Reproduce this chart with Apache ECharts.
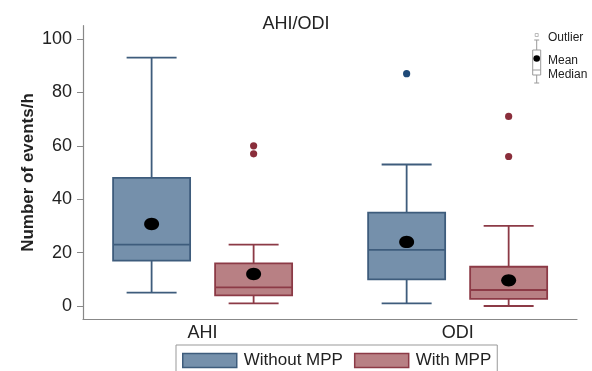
<!DOCTYPE html>
<html>
<head>
<meta charset="utf-8">
<script src="https://cdn.jsdelivr.net/npm/echarts@6/dist/echarts.min.js"></script>
<style>html,body{margin:0;padding:0;background:#fff;}#c{width:592px;height:371px;}</style>
</head>
<body>
<div id="c"></div>
<script>
// ---- data ----
const categories = ['AHI', 'ODI'];
const seriesNames = ['Without MPP', 'With MPP'];
// [min(whisker), Q1, median, Q3, max(whisker), mean]
const withoutMPP = [
  [5, 17, 23, 48, 93, 30.7],
  [1, 10, 21, 35, 53, 24]
];
const withMPP = [
  [1, 4, 7, 16, 23, 12],
  [0, 2.7, 6, 14.7, 30, 9.6]
];
const withoutOutliers = [[], [87]];
const withOutliers = [[60, 57], [71, 56]];
const yTicks = [0, 20, 40, 60, 80, 100];
const keyLabels = ['Outlier', 'Mean', 'Median'];

const styles = [
  { fill: '#7590ab', stroke: '#3e5c7c', outlier: '#1f4a78', offset: -0.2 },
  { fill: '#b88084', stroke: '#8c3a46', outlier: '#8a2e3b', offset: 0.2 }
];
const FONT = 'Liberation Sans, Arial, sans-serif';

function boxRender(si) {
  return function (params, api) {
    const cat = api.value(0);
    const bw = api.size([1, 0])[0];
    const st = styles[si];
    const cx = api.coord([cat, 0])[0] + st.offset * bw;
    const y = v => api.coord([cat, v])[1];
    const half = 0.151 * bw, cap = 0.098 * bw;
    const yMin = y(api.value(1)), yQ1 = y(api.value(2)), yMed = y(api.value(3)),
          yQ3 = y(api.value(4)), yMax = y(api.value(5)), yMean = y(api.value(6));
    const ls = { stroke: st.stroke, lineWidth: 1.8 };
    return {
      type: 'group',
      children: [
        { type: 'line', shape: { x1: cx, y1: yQ3, x2: cx, y2: yMax }, style: ls },
        { type: 'line', shape: { x1: cx, y1: yQ1, x2: cx, y2: yMin }, style: ls },
        { type: 'line', shape: { x1: cx - cap, y1: yMax, x2: cx + cap, y2: yMax }, style: ls },
        { type: 'line', shape: { x1: cx - cap, y1: yMin, x2: cx + cap, y2: yMin }, style: ls },
        { type: 'rect', shape: { x: cx - half, y: yQ3, width: 2 * half, height: yQ1 - yQ3 },
          style: { fill: st.fill, stroke: st.stroke, lineWidth: 1.8 } },
        { type: 'line', shape: { x1: cx - half, y1: yMed, x2: cx + half, y2: yMed }, style: ls },
        { type: 'ellipse', shape: { cx: cx, cy: yMean, rx: 7.5, ry: 6.2 }, style: { fill: '#000' } }
      ]
    };
  };
}

function outlierRender(si) {
  return function (params, api) {
    const cat = api.value(0);
    const bw = api.size([1, 0])[0];
    const st = styles[si];
    const p = api.coord([cat, api.value(1)]);
    return { type: 'circle', shape: { cx: p[0] + st.offset * bw, cy: p[1], r: 3.6 }, style: { fill: st.outlier } };
  };
}

const boxData = [withoutMPP, withMPP].map(arr => arr.map((d, i) => [i].concat(d)));
const outData = [withoutOutliers, withOutliers].map(arr => {
  const out = [];
  arr.forEach((vals, i) => vals.forEach(v => out.push([i, v])));
  return out;
});

// small key (legend for box elements) at top right
const kx = 536.7, kStroke = '#9a9a9a';
const keyGraphic = {
  type: 'group', silent: true,
  children: [
    { type: 'rect', shape: { x: kx - 1.5, y: 33.5, width: 3, height: 3 }, style: { fill: 'none', stroke: '#aaa', lineWidth: 0.8 } },
    { type: 'line', shape: { x1: kx - 2.5, y1: 40, x2: kx + 2.5, y2: 40 }, style: { stroke: kStroke, lineWidth: 1 } },
    { type: 'line', shape: { x1: kx, y1: 40, x2: kx, y2: 50 }, style: { stroke: kStroke, lineWidth: 1 } },
    { type: 'rect', shape: { x: kx - 4, y: 50, width: 8, height: 25 }, style: { fill: '#fff', stroke: kStroke, lineWidth: 1 } },
    { type: 'line', shape: { x1: kx - 4, y1: 70, x2: kx + 4, y2: 70 }, style: { stroke: kStroke, lineWidth: 1 } },
    { type: 'line', shape: { x1: kx, y1: 75, x2: kx, y2: 83 }, style: { stroke: kStroke, lineWidth: 1 } },
    { type: 'line', shape: { x1: kx - 2.5, y1: 83, x2: kx + 2.5, y2: 83 }, style: { stroke: kStroke, lineWidth: 1 } },
    { type: 'circle', shape: { cx: kx, cy: 58.5, r: 3.3 }, style: { fill: '#000' } },
    { type: 'text', x: 548, y: 37.5, style: { text: keyLabels[0], fontFamily: FONT, fontSize: 12, fill: '#222', verticalAlign: 'middle' } },
    { type: 'text', x: 548, y: 60.5, style: { text: keyLabels[1], fontFamily: FONT, fontSize: 12, fill: '#222', verticalAlign: 'middle' } },
    { type: 'text', x: 548, y: 75, style: { text: keyLabels[2], fontFamily: FONT, fontSize: 12, fill: '#222', verticalAlign: 'middle' } }
  ]
};

const chart = echarts.init(document.getElementById('c'), null, { renderer: 'canvas' });
chart.setOption({
  animation: false,
  backgroundColor: '#fff',
  title: {
    text: 'AHI/ODI', left: 'center', top: 10,
    textStyle: { fontFamily: FONT, fontSize: 18, fontWeight: 'normal', color: '#222' }
  },
  grid: { left: 83, right: 15, top: 25.65, bottom: 51.65 },
  xAxis: {
    type: 'value', min: -0.469, max: 1.468,
    axisLine: { show: true, onZero: false, lineStyle: { color: '#888', width: 1.2 } },
    axisTick: { show: false },
    splitLine: { show: false },
    axisLabel: {
      customValues: [0, 1],
      formatter: v => categories[Math.round(v)],
      fontFamily: FONT, fontSize: 18, color: '#222', margin: 5
    }
  },
  yAxis: {
    type: 'value', min: -5, max: 105,
    name: 'Number of events/h', nameLocation: 'middle', nameGap: 46, nameMoveOverlap: false,
    nameTextStyle: { fontFamily: FONT, fontSize: 17, fontWeight: 'bold', color: '#222' },
    axisLine: { show: true, onZero: false, lineStyle: { color: '#888', width: 1.2 } },
    axisTick: { show: true, customValues: yTicks, length: 6, lineStyle: { color: '#888' } },
    splitLine: { show: false },
    axisLabel: { customValues: yTicks, fontFamily: FONT, fontSize: 18, color: '#222', margin: 11 }
  },
  legend: {
    left: 176, top: 345,
    padding: [7, 6, 14, 6],
    borderColor: '#999', borderWidth: 1,
    itemWidth: 54, itemHeight: 14, itemGap: 11,
    textStyle: { fontFamily: FONT, fontSize: 17, color: '#222', padding: [0, 0, 0, 2] },
    data: [
      { name: seriesNames[0], icon: 'rect', itemStyle: { color: styles[0].fill, borderColor: styles[0].stroke, borderWidth: 1.5 } },
      { name: seriesNames[1], icon: 'rect', itemStyle: { color: styles[1].fill, borderColor: styles[1].stroke, borderWidth: 1.5 } }
    ]
  },
  series: [
    { name: seriesNames[0], type: 'custom', renderItem: boxRender(0), data: boxData[0],
      itemStyle: { color: styles[0].fill, borderColor: styles[0].stroke }, encode: { x: 0, y: [1, 2, 3, 4, 5, 6] } },
    { name: seriesNames[1], type: 'custom', renderItem: boxRender(1), data: boxData[1],
      itemStyle: { color: styles[1].fill, borderColor: styles[1].stroke }, encode: { x: 0, y: [1, 2, 3, 4, 5, 6] } },
    { name: seriesNames[0], type: 'custom', renderItem: outlierRender(0), data: outData[0], encode: { x: 0, y: 1 } },
    { name: seriesNames[1], type: 'custom', renderItem: outlierRender(1), data: outData[1], encode: { x: 0, y: 1 } }
  ],
  graphic: [keyGraphic]
});
</script>
</body>
</html>
